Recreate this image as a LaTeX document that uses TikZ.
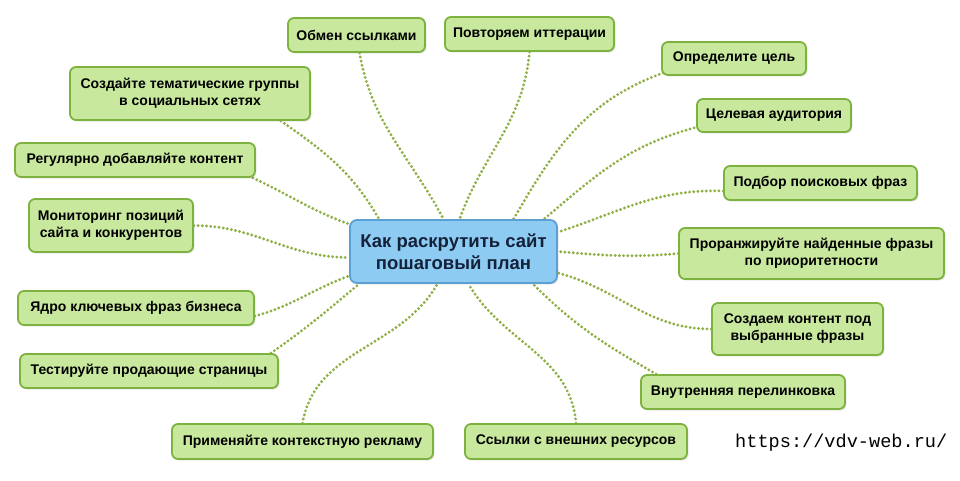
\documentclass[tikz,border=0pt]{standalone}
\usepackage{fontspec}
\setmainfont{Liberation Sans}
\setmonofont{Liberation Mono}
\usetikzlibrary{backgrounds,shadows}
\definecolor{gfill}{HTML}{C8E89E}
\definecolor{gborder}{HTML}{7DB23F}
\definecolor{bfill}{HTML}{8DCBF2}
\definecolor{bborder}{HTML}{5B9FD3}
\definecolor{conn}{HTML}{8FB046}
\definecolor{ctext}{HTML}{14213A}
\tikzset{
  gnode/.style={draw=gborder, line width=1.8pt, fill=gfill, rounded corners=6pt,
    align=center, inner sep=2pt, text=black,
    font=\bfseries\fontsize{14}{17}\selectfont,
    drop shadow={opacity=0.18, shadow xshift=1.5pt, shadow yshift=-1.5pt}},
  cnode/.style={draw=bborder, line width=1.8pt, fill=bfill, rounded corners=7pt,
    align=center, text=ctext, font=\bfseries\fontsize{18.5}{22}\selectfont,
    drop shadow={opacity=0.18, shadow xshift=1.5pt, shadow yshift=-1.5pt}},
  conline/.style={draw=conn, line width=3.2pt, line cap=round, dash pattern=on 0pt off 4.2pt},
}
\begin{document}
\begin{tikzpicture}[x=1pt,y=-1pt]
\useasboundingbox (0,0) rectangle (960,480);

\node[cnode, minimum width=207pt, minimum height=63pt] (c) at (453.5,251.5) {Как раскрутить сайт\\пошаговый план};

\node[gnode, minimum width=137pt, minimum height=34pt] (n1) at (356.5,35) {Обмен ссылками};
\node[gnode, minimum width=169pt, minimum height=34pt] (n2) at (529.5,34) {Повторяем иттерации};
\node[gnode, minimum width=144pt, minimum height=33pt] (n3) at (734,58.5) {Определите цель};
\node[gnode, minimum width=154pt, minimum height=33pt] (n4) at (774,115.5) {Целевая аудитория};
\node[gnode, minimum width=193pt, minimum height=34pt] (n5) at (820.5,183) {Подбор поисковых фраз};
\node[gnode, minimum width=265pt, minimum height=51pt] (n6) at (811.5,253.5) {Проранжируйте найденные фразы\\по приоритетности};
\node[gnode, minimum width=171pt, minimum height=52pt] (n7) at (797.5,329) {Создаем контент под\\выбранные фразы};
\node[gnode, minimum width=204pt, minimum height=34pt] (n8) at (743,392) {Внутренняя перелинковка};
\node[gnode, minimum width=222pt, minimum height=35pt] (n9) at (576,441.5) {Ссылки с внешних ресурсов};
\node[gnode, minimum width=261pt, minimum height=35pt] (n10) at (302.5,441.5) {Применяйте контекстную рекламу};
\node[gnode, minimum width=258pt, minimum height=34pt] (n11) at (149,371) {Тестируйте продающие страницы};
\node[gnode, minimum width=236pt, minimum height=34pt] (n12) at (136,308) {Ядро ключевых фраз бизнеса};
\node[gnode, minimum width=164pt, minimum height=53pt] (n13) at (111,225.5) {Мониторинг позиций\\сайта и конкурентов};
\node[gnode, minimum width=240pt, minimum height=34pt] (n14) at (135,160) {Регулярно добавляйте контент};
\node[gnode, minimum width=240pt, minimum height=53pt] (n15) at (190,93.5) {Создайте тематические группы\\в социальных сетях};

\node[font=\ttfamily\fontsize{18.6}{20}\selectfont, anchor=west, inner sep=0pt] (url) at (735,443) {https://vdv-web.ru/};

\begin{scope}[on background layer]
\draw[conline] ([xshift=3pt]n1.south) to[out=-80, in=118] ([xshift=-10pt]c.north);
\draw[conline] (n2.south) to[out=-95, in=70] ([xshift=6pt]c.north);
\draw[conline] ([xshift=2pt,yshift=3pt]n3.south west) to[out=200, in=60] ([xshift=60pt]c.north);
\draw[conline] ([xshift=-2pt,yshift=5pt]n4.south west) to[out=195, in=40] ([xshift=-14pt]c.north east);
\draw[conline] ([yshift=-8pt]n5.west) to[out=178, in=18] ([yshift=-13pt]c.north east);
\draw[conline] (n6.west) to[out=185, in=-5] (c.east);
\draw[conline] (n7.west) to[out=180, in=-15] ([yshift=11pt]c.south east);
\draw[conline] ([xshift=16pt]n8.north west) to[out=150, in=-45] ([xshift=-25pt]c.south east);
\draw[conline] (n9.north) to[out=95, in=-60] ([xshift=15pt]c.south);
\draw[conline] (n10.north) to[out=80, in=-120] ([xshift=-16pt]c.south);
\draw[conline] ([xshift=-8pt]n11.north east) to[out=35, in=-140] ([xshift=10pt]c.south west);
\draw[conline] ([yshift=-8pt]n12.east) to[out=15, in=200] ([yshift=8pt]c.south west);
\draw[conline] (n13.east) to[out=0, in=180] ([yshift=-6pt]c.west);
\draw[conline] ([xshift=-3pt]n14.south east) to[out=-25, in=160] ([yshift=-5pt]c.north west);
\draw[conline] ([xshift=-30pt]n15.south east) to[out=-35, in=120] ([xshift=30pt]c.north west);
\end{scope}
\end{tikzpicture}
\end{document}
